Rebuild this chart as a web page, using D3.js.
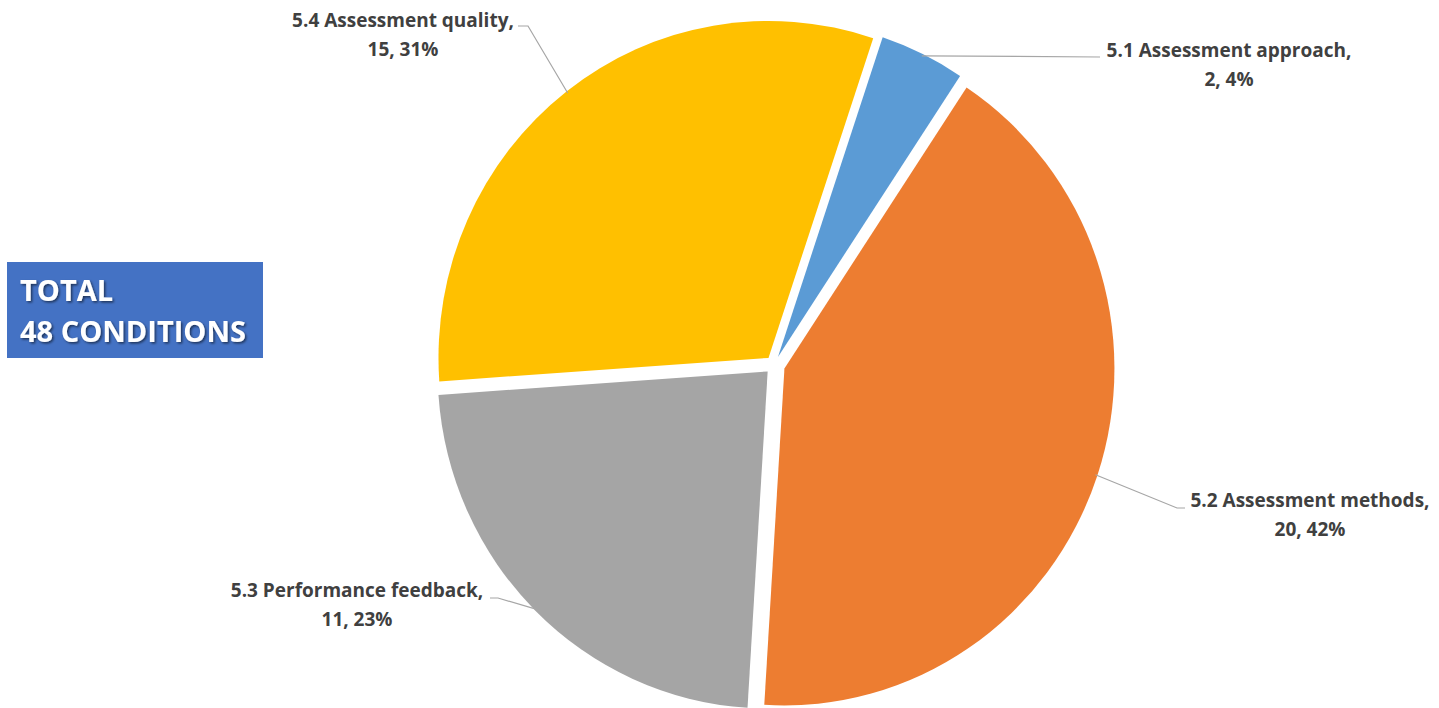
<!DOCTYPE html>
<html>
<head>
<meta charset="utf-8">
<script src="https://cdn.jsdelivr.net/npm/d3@7"></script>
<style>
  body { margin: 0; background: #fff; }
  svg { display: block; }
</style>
</head>
<body>
<svg id="chart" width="1439" height="708"></svg>
<script>
// data
const categories = [
  "5.1 Assessment approach",
  "5.2 Assessment methods",
  "5.3 Performance feedback",
  "5.4 Assessment quality"
];
const values = [2, 20, 11, 15];
const colors = ["#5B9BD5", "#ED7D31", "#A5A5A5", "#FFC000"];
const totalLines = ["TOTAL", "48 CONDITIONS"];

// layout
const width = 1439, height = 708;
const cx = 774, cy = 365, rx = 330, ry = 337;
const explode = [9, 11, 9, 9];
const startAngle = (18.5 * Math.PI) / 180;
// label centre (first text line) and leader elbow points
const labelPos = [
  { x: 1229, y: 50, bend: [[1100, 57]] },
  { x: 1310, y: 500, bend: [[1177, 508], [1185, 508]] },
  { x: 357, y: 590, bend: [[498, 598], [490, 598]] },
  { x: 403, y: 20, bend: [[528, 26], [518, 26]] }
];

const svg = d3.select("#chart");
const total = d3.sum(values);

const pie = d3
  .pie()
  .sort(null)
  .startAngle(startAngle)
  .endAngle(startAngle + 2 * Math.PI);

const arcs = pie(values);
const arc = d3.arc().innerRadius(0).outerRadius(rx);
const midAngle = (d) => (d.startAngle + d.endAngle) / 2;

const g = svg
  .append("g")
  .attr("transform", `translate(${cx},${cy}) scale(1,${ry / rx})`);

// slices, each pushed out along its bisector
g.selectAll(".slice")
  .data(arcs)
  .enter()
  .append("path")
  .attr("class", "slice")
  .attr("d", arc)
  .attr("fill", (d, i) => colors[i])
  .attr("transform", (d, i) => {
    const a = midAngle(d);
    return `translate(${explode[i] * Math.sin(a)},${(-explode[i] * Math.cos(a) * rx) / ry})`;
  });

// leader lines start on the slice edge
const leaderStart = (d, i) => {
  const a = midAngle(d);
  const ox = explode[i] * Math.sin(a), oy = -explode[i] * Math.cos(a);
  return [cx + ox + (rx - 2) * Math.sin(a), cy + oy - (ry - 2) * Math.cos(a)];
};

svg
  .selectAll(".leader")
  .data(arcs)
  .enter()
  .append("polyline")
  .attr("class", "leader")
  .attr("fill", "none")
  .attr("stroke", "#A6A6A6")
  .attr("stroke-width", 1.2)
  .attr("points", (d, i) =>
    [leaderStart(d, i), ...labelPos[i].bend].map((p) => p.join(",")).join(" ")
  );

// data labels
const labels = svg
  .selectAll(".label")
  .data(arcs)
  .enter()
  .append("text")
  .attr("class", "label")
  .attr("text-anchor", "middle")
  .style("font-family", "'Open Sans', sans-serif")
  .style("font-weight", "bold")
  .style("font-size", "19px")
  .style("fill", "#404040");

labels
  .append("tspan")
  .attr("x", (d, i) => labelPos[i].x)
  .attr("y", (d, i) => labelPos[i].y)
  .attr("dy", "0.35em")
  .text((d, i) => categories[i] + ",");

labels
  .append("tspan")
  .attr("x", (d, i) => labelPos[i].x)
  .attr("y", (d, i) => labelPos[i].y + 29)
  .attr("dy", "0.35em")
  .text((d, i) => `${values[i]}, ${Math.round((values[i] / total) * 100)}%`);

// total box
const defs = svg.append("defs");
const shadow = defs.append("filter").attr("id", "tshadow");
shadow
  .append("feDropShadow")
  .attr("dx", 1.5)
  .attr("dy", 1.5)
  .attr("stdDeviation", 1)
  .attr("flood-color", "#000")
  .attr("flood-opacity", 0.55);

svg
  .append("rect")
  .attr("x", 7)
  .attr("y", 262)
  .attr("width", 256)
  .attr("height", 96)
  .attr("fill", "#4472C4");

svg
  .selectAll(".total")
  .data(totalLines)
  .enter()
  .append("text")
  .attr("class", "total")
  .attr("x", 20)
  .attr("y", (d, i) => 301 + i * 41)
  .text((d) => d)
  .style("font-family", "'Open Sans', sans-serif")
  .style("font-weight", "bold")
  .style("font-size", "29px")
  .style("fill", "#fff")
  .attr("filter", "url(#tshadow)");
</script>
</body>
</html>
